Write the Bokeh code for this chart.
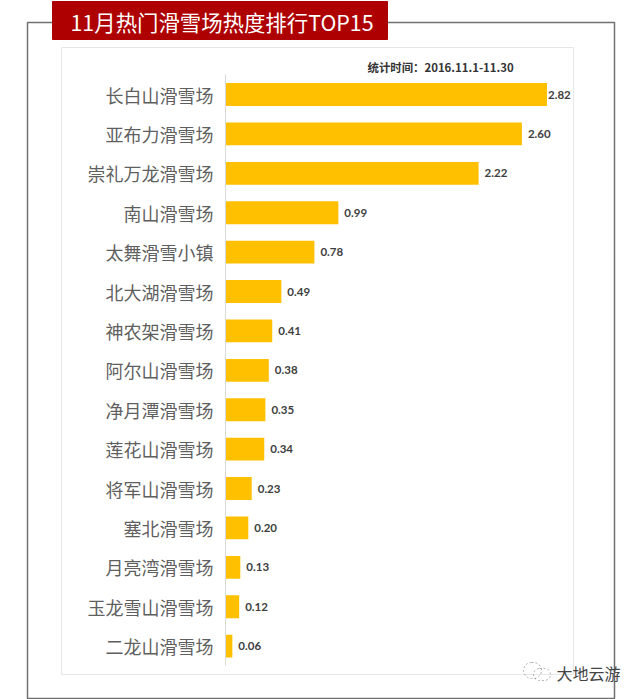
from bokeh.plotting import figure
from bokeh.models import Range1d, BoxAnnotation, Label, ColumnDataSource, FixedTicker
from bokeh.core.properties import value
from bokeh.embed import file_html
from bokeh.resources import INLINE

title_text = "11月热门滑雪场热度排行TOP15"
period_text = "统计时间：2016.11.1-11.30"
watermark = "大地云游"
resorts = ["长白山滑雪场", "亚布力滑雪场", "崇礼万龙滑雪场", "南山滑雪场", "太舞滑雪小镇",
           "北大湖滑雪场", "神农架滑雪场", "阿尔山滑雪场", "净月潭滑雪场", "莲花山滑雪场",
           "将军山滑雪场", "塞北滑雪场", "月亮湾滑雪场", "玉龙雪山滑雪场", "二龙山滑雪场"]
heat = [2.82, 2.60, 2.22, 0.99, 0.78, 0.49, 0.41, 0.38, 0.35, 0.34, 0.23, 0.20, 0.13, 0.12, 0.06]
ranks = list(range(1, 16))
label_offsets = [1] + [6] * 14

W, H = 640, 699
CJK = "Noto Sans CJK SC"

p = figure(width=W, height=H, output_backend="svg", toolbar_location=None,
           x_range=Range1d(-225 / 114.0, 415 / 114.0), y_range=Range1d(16.355, -1.386),
           x_axis_location=None,
           min_border_left=0, min_border_right=0, min_border_top=0, min_border_bottom=0,
           outline_line_color=None, background_fill_color="white", border_fill_color="white")
p.grid.visible = False
ax = p.yaxis[0]
ax.fixed_location = 0
ax.bounds = (0.5, 15.5)
ax.ticker = FixedTicker(ticks=ranks)
ax.major_label_overrides = {r: n for r, n in zip(ranks, resorts)}
ax.axis_line_color = "#d9d9d9"
ax.major_tick_line_color = None
ax.minor_tick_line_color = None
ax.major_label_standoff = 6
ax.major_label_text_font = CJK
ax.major_label_text_font_size = "18px"
ax.major_label_text_color = "#5f5f5f"


def box(l, r, t, b, **kw):
    p.add_layout(BoxAnnotation(left=l, right=r, top=H - t, bottom=H - b,
                               left_units="screen", right_units="screen",
                               top_units="screen", bottom_units="screen", **kw))


def text(x, y, s, **kw):
    p.add_layout(Label(x=x, y=H - y, x_units="screen", y_units="screen", text=s, **kw))


box(27, 614, 22, 698, fill_alpha=0, line_color="#707070", line_alpha=1, line_width=1.5, level="underlay")
box(61, 573, 47, 674, fill_alpha=0, line_color="#e6e6e6", line_alpha=1, line_width=1, level="underlay")
box(52, 387, 1, 39, fill_color="#ae0000", fill_alpha=1, line_color="#ae0000", line_alpha=1)
text(70, 21, title_text, text_color="white", text_font=CJK, text_font_size="21.4px",
     text_baseline="middle", text_align="left")
text(367, 66, period_text, text_color="#333333", text_font=CJK, text_font_size="11.4px",
     text_font_style="bold", text_baseline="middle", text_align="left")

src = ColumnDataSource(dict(y=ranks, v=heat, s=[f"{v:.2f}" for v in heat], dx=label_offsets))
p.hbar(y="y", right="v", left=0, height=0.58, source=src, fill_color="#ffc000", line_color=None)
p.text(x="v", y="y", text="s", x_offset="dx", source=src, text_font=value("Lato"), text_font_size="11.5px",
       text_font_style="bold", text_color="#404040", text_baseline="middle", text_align="left")

box(523, 541, 662, 678, fill_alpha=0, line_color="#777777", line_alpha=0.7, line_width=0.8, line_dash="2 2", border_radius=8)
box(533, 550, 668, 680, fill_alpha=0, line_color="#777777", line_alpha=0.7, line_width=0.8, line_dash="2 2", border_radius=6)
text(556, 672, watermark, text_color="#444444", text_font=CJK, text_font_size="16px",
     text_baseline="middle", text_align="left")

open("out.html", "w").write(file_html(p, INLINE))
